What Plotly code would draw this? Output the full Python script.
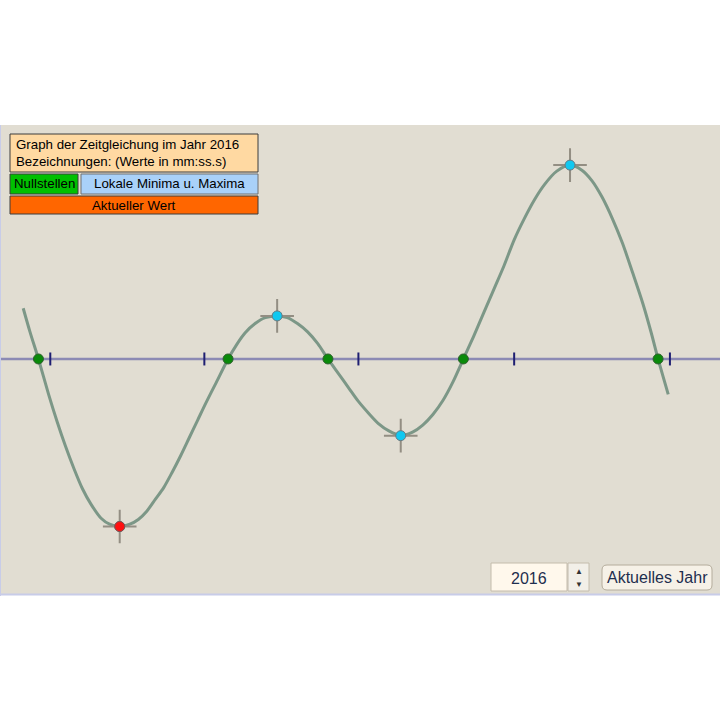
import plotly.graph_objects as go

# ---- data: equation of time 2016 (minutes, sundial minus clock) ----
dates = ["2015-12-16", "2015-12-20", "2015-12-25", "2015-12-31", "2016-01-05", "2016-01-10",
         "2016-01-15", "2016-01-20", "2016-01-25", "2016-01-31", "2016-02-05", "2016-02-11",
         "2016-02-17", "2016-02-22", "2016-02-27", "2016-03-03", "2016-03-08", "2016-03-13",
         "2016-03-18", "2016-03-23", "2016-03-28", "2016-04-02", "2016-04-08", "2016-04-15",
         "2016-04-20", "2016-04-25", "2016-05-01", "2016-05-07", "2016-05-14", "2016-05-20",
         "2016-05-26", "2016-06-01", "2016-06-07", "2016-06-13", "2016-06-19", "2016-06-25",
         "2016-07-01", "2016-07-07", "2016-07-13", "2016-07-19", "2016-07-26", "2016-08-02",
         "2016-08-08", "2016-08-14", "2016-08-20", "2016-08-26", "2016-09-01", "2016-09-07",
         "2016-09-13", "2016-09-19", "2016-09-25", "2016-10-01", "2016-10-07", "2016-10-13",
         "2016-10-19", "2016-10-26", "2016-11-03", "2016-11-10", "2016-11-16", "2016-11-22",
         "2016-11-28", "2016-12-04", "2016-12-10", "2016-12-16", "2016-12-21", "2016-12-25",
         "2016-12-31"]
eot = [4.3, 2.3, 0.0, -3.0, -5.3, -7.4,
       -9.3, -11.0, -12.3, -13.5, -14.0, -14.2,
       -14.0, -13.6, -12.9, -11.9, -10.9, -9.6,
       -8.2, -6.7, -5.2, -3.7, -2.0, 0.0,
       1.2, 2.2, 3.0, 3.5, 3.65, 3.5,
       3.0, 2.3, 1.3, 0.0, -1.2, -2.4,
       -3.6, -4.6, -5.5, -6.1, -6.5, -6.2,
       -5.6, -4.7, -3.5, -1.9, 0.0, 1.9,
       3.9, 5.9, 7.9, 10.1, 11.9, 13.5,
       14.8, 15.9, 16.43, 16.0, 15.1, 13.7,
       11.9, 9.8, 7.3, 4.7, 2.2, 0.0,
       -3.0]

zero_dates = ["2015-12-25", "2016-04-15", "2016-06-13", "2016-09-01", "2016-12-25"]
zero_vals = [0, 0, 0, 0, 0]
ext_dates = ["2016-02-11", "2016-05-14", "2016-07-26", "2016-11-03"]
ext_vals = [-14.2, 3.65, -6.5, 16.43]
cur_date = ["2016-02-11"]
cur_val = [-14.2]
tick_dates = ["2016-01-01", "2016-04-01", "2016-07-01", "2016-10-01", "2017-01-01"]

BG = "#E1DDD2"
W, H = 720, 720
TOP, BOT = 125, 594


def px(x):
    return x / W


def py(y):
    return (BOT - y) / (BOT - TOP)


fig = go.Figure()

# x-axis line (under the curve)
fig.add_trace(go.Scatter(x=["2015-12-02", "2017-01-31"], y=[0, 0], mode="lines",
                         line=dict(color="#8C8AB4", width=2.5), hoverinfo="skip"))

# curve
fig.add_trace(go.Scatter(x=dates, y=eot, mode="lines",
                         line=dict(color="#7C9787", width=3, shape="spline", smoothing=0.8),
                         hoverinfo="skip"))

# quarter ticks on axis
tx, ty = [], []
for d in tick_dates:
    tx += [d, d, None]
    ty += [-0.55, 0.55, None]
fig.add_trace(go.Scatter(x=tx, y=ty, mode="lines", line=dict(color="#1E1E72", width=2), hoverinfo="skip"))

# crosshairs at extrema
fig.add_trace(go.Scatter(x=ext_dates, y=ext_vals, mode="markers",
                         marker=dict(symbol="cross-thin", size=24, line=dict(color="#938E83", width=2)),
                         hoverinfo="skip"))
# zeros
fig.add_trace(go.Scatter(x=zero_dates, y=zero_vals, mode="markers",
                         marker=dict(size=10, color="#0A8A0A", line=dict(color="#2F5F2F", width=1))))
# extrema points
fig.add_trace(go.Scatter(x=ext_dates, y=ext_vals, mode="markers",
                         marker=dict(size=10, color="#10C8F0", line=dict(color="#6A7A80", width=1))))
# current value
fig.add_trace(go.Scatter(x=cur_date, y=cur_val, mode="markers",
                         marker=dict(size=10, color="#FF1010", line=dict(color="#805050", width=1))))

shapes = []
# light panel edges (left and bottom)
shapes.append(dict(type="line", xref="paper", yref="paper", x0=px(0.5), x1=px(0.5), y0=py(596), y1=py(125),
                   line=dict(color="#C8CCE8", width=1)))
shapes.append(dict(type="line", xref="paper", yref="paper", x0=0, x1=1, y0=py(594.5), y1=py(594.5),
                   line=dict(color="#C8CCE8", width=2)))


def box(x0, y0, x1, y1, fill, border):
    shapes.append(dict(type="rect", xref="paper", yref="paper", x0=px(x0), x1=px(x1), y0=py(y1), y1=py(y0),
                       fillcolor=fill, line=dict(color=border, width=1), layer="above"))


box(10, 134, 258, 172, "#FFD9A2", "#3C3C3C")
box(10, 174, 78, 194, "#00C000", "#3C3C3C")
box(81, 174, 258, 194, "#A9D1F9", "#707070")
box(10, 196, 258, 214, "#FF6600", "#3C3C3C")

# year spinner
box(491, 563, 567, 591, "#FFF8EC", "#C4BCAC")
box(568, 563, 589, 591, "#F2EFE8", "#C4BCAC")


def rpath(x0, y0, x1, y1, r):
    def P(x, y):
        return f"{px(x)},{py(y)}"
    return (f"M {P(x0 + r, y0)} L {P(x1 - r, y0)} Q {P(x1, y0)} {P(x1, y0 + r)} L {P(x1, y1 - r)} "
            f"Q {P(x1, y1)} {P(x1 - r, y1)} L {P(x0 + r, y1)} Q {P(x0, y1)} {P(x0, y1 - r)} "
            f"L {P(x0, y0 + r)} Q {P(x0, y0)} {P(x0 + r, y0)} Z")


shapes.append(dict(type="path", xref="paper", yref="paper", path=rpath(602, 565, 712, 590, 5),
                   fillcolor="#F6F1E7", line=dict(color="#B4AC9C", width=1)))

FONT = "Liberation Sans, Arial, sans-serif"
ann = []


def text(x, y, s, size=13.3, color="#000000", xanchor="left"):
    ann.append(dict(x=px(x), y=py(y), xref="paper", yref="paper", text=s, showarrow=False,
                    xanchor=xanchor, yanchor="middle", font=dict(family=FONT, size=size, color=color)))


text(14, 145, "Graph der Zeitgleichung im Jahr 2016")
text(14, 161, "Bezeichnungen: (Werte in mm:ss.s)")
text(44, 184, "Nullstellen", xanchor="center")
text(169.5, 184, "Lokale Minima u. Maxima", xanchor="center")
text(134, 205.5, "Aktueller Wert", xanchor="center")
text(529, 578, "2016", size=16, color="#1E2E4E", xanchor="center")
text(578.5, 571, "▲", size=8, color="#333333", xanchor="center")
text(578.5, 584, "▼", size=8, color="#333333", xanchor="center")
text(657, 577.5, "Aktuelles Jahr", size=16, color="#1E2E4E", xanchor="center")

fig.update_layout(
    width=W, height=H,
    margin=dict(l=0, r=0, t=TOP, b=H - BOT),
    paper_bgcolor="#FFFFFF",
    plot_bgcolor=BG,
    showlegend=False,
    shapes=shapes,
    annotations=ann,
    xaxis=dict(type="date", range=["2015-12-02 07:00", "2017-01-30 14:00"], visible=False, fixedrange=True),
    yaxis=dict(range=[-19.92, 19.83], visible=False, fixedrange=True),
)

fig.write_html("out.html")
